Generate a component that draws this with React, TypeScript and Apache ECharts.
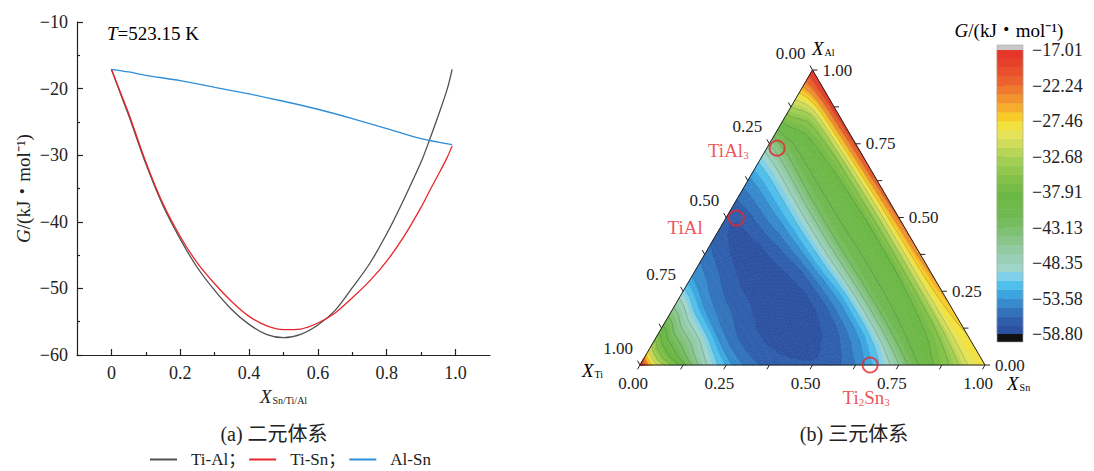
import React, { useEffect, useRef } from "react";
import * as echarts from "echarts";

// ---------------- (a) binary curves ----------------
const X_BINARY = [0, 0.025, 0.05, 0.1, 0.15, 0.2, 0.25, 0.3, 0.35, 0.4, 0.45, 0.5, 0.55, 0.6, 0.65, 0.7, 0.75, 0.8, 0.85, 0.9, 0.925, 0.95, 0.975, 0.99];
const G_TI_AL = [-17.1, -20.6, -24.0, -31.3, -37.6, -42.6, -46.9, -50.3, -53.2, -55.4, -56.9, -57.4, -56.9, -55.5, -53.3, -49.9, -46.3, -41.8, -36.6, -31.0, -27.6, -24.0, -20.2, -17.1];
const G_TI_SN = [-17.1, -20.4, -23.7, -31.0, -37.3, -42.2, -46.2, -49.3, -52.0, -54.2, -55.6, -56.2, -56.1, -55.2, -53.7, -51.4, -48.9, -45.9, -42.2, -37.8, -35.3, -32.9, -30.4, -28.6];
const X_AL_SN = [0, 0.05, 0.1, 0.2, 0.3, 0.4, 0.5, 0.6, 0.7, 0.8, 0.9, 0.99];
const G_AL_SN = [-17.1, -17.5, -18.0, -18.8, -19.8, -20.8, -21.9, -23.1, -24.5, -26.0, -27.5, -28.4];
const SERIES_NAMES = ["Ti-Al", "Ti-Sn", "Al-Sn"];
const X_MAJOR_TICKS = [0, 0.2, 0.4, 0.6, 0.8, 1.0];
const X_MINOR_TICKS = [0.1, 0.3, 0.5, 0.7, 0.9];

// ---------------- (b) ternary field ----------------
// rows: constant X_Ti ; columns: share of Al in (Al+Sn)
const TI_LEVELS = [0, 0.03, 0.1, 0.2, 0.3, 0.4, 0.5, 0.6, 0.7, 0.8, 0.9, 0.96, 1];
const AL_SHARE = [0, 0.1, 0.2, 0.3, 0.4, 0.5, 0.6, 0.7, 0.8, 0.9, 1];
const G_T000 = [-28.6, -27.5, -26.2, -24.6, -23.2, -22.0, -20.8, -19.7, -18.7, -17.6, -17.01];
const G_T003 = [-29.0, -28.8, -28.5, -28.0, -27.7, -27.4, -26.8, -26.0, -25.0, -24.0, -21.5];
const G_T010 = [-35.0, -36.6, -37.4, -37.8, -38.0, -38.0, -37.8, -37.6, -37.0, -35.8, -30.0];
const G_T020 = [-41.0, -41.5, -41.8, -41.8, -41.7, -41.6, -41.5, -41.5, -41.6, -41.8, -40.5];
const G_T030 = [-50.5, -52.0, -52.6, -52.6, -52.0, -51.2, -50.8, -50.6, -50.6, -50.6, -50.2];
const G_T040 = [-55.8, -56.5, -57.2, -57.5, -57.5, -57.2, -56.6, -56.0, -55.5, -55.3, -55.0];
const G_T050 = [-57.3, -58.0, -58.5, -58.7, -58.8, -58.8, -58.7, -58.5, -58.2, -57.8, -57.3];
const G_T060 = [-57.0, -57.3, -57.5, -57.5, -57.3, -57.0, -57.0, -56.8, -56.5, -56.3, -56.0];
const G_T070 = [-55.0, -55.2, -55.3, -55.2, -55.0, -54.8, -54.6, -54.4, -54.0, -53.6, -53.5];
const G_T080 = [-49.0, -48.5, -48.0, -47.5, -47.0, -47.0, -47.0, -47.0, -46.5, -46.0, -46.0];
const G_T090 = [-36.0, -37.0, -37.5, -38.0, -38.0, -38.0, -38.0, -38.0, -37.5, -37.0, -37.0];
const G_T096 = [-28.0, -28.5, -29.0, -29.0, -29.0, -29.0, -29.0, -29.0, -29.0, -28.5, -28.0];
const G_T100 = [-17.01, -17.01, -17.01, -17.01, -17.01, -17.01, -17.01, -17.01, -17.01, -17.01, -17.01];
const G_GRID = [G_T000, G_T003, G_T010, G_T020, G_T030, G_T040, G_T050, G_T060, G_T070, G_T080, G_T090, G_T096, G_T100];

const G_MIN = -58.8;
const G_MAX = -17.01;
const BAND_COUNT = 32;
const CB_TICKS = [-17.01, -22.24, -27.46, -32.68, -37.91, -43.13, -48.35, -53.58, -58.8];
const TERNARY_TICKS = [0, 0.125, 0.25, 0.375, 0.5, 0.625, 0.75, 0.875, 1];

const COMPOUND_TI = [0.235, 0.472, 0.333];
const COMPOUND_AL = [0.735, 0.498, 0.0];
const COMPOUND_SN = [0.03, 0.03, 0.667];
const COMPOUND_LABELS = ["{a|TiAl}{s|3}", "{a|TiAl}", "{a|Ti}{s|2}{a|Sn}{s|3}"];

const COLOR_STOPS: [number, string][] = [
  [-17.01, "#e5302a"], [-19.5, "#e8452a"], [-21.8, "#ed652c"], [-23.7, "#f1892e"],
  [-25.3, "#f6a82d"], [-26.5, "#f9c523"], [-27.8, "#f4df38"], [-29.5, "#e5e35a"],
  [-31.3, "#c6d95a"], [-33.5, "#9ecd52"], [-36.0, "#82c148"], [-38.5, "#6cb845"],
  [-41.0, "#6fb94f"], [-43.0, "#7abe66"], [-45.0, "#88c58a"], [-47.0, "#96cdac"],
  [-49.0, "#9fd4c8"], [-50.3, "#7fd0ea"], [-51.7, "#4cbfeb"], [-53.2, "#3a9fdc"],
  [-54.7, "#3480c6"], [-56.2, "#2f66b2"], [-57.6, "#2c55a4"], [-58.8, "#2b4d9c"],
];

const SERIF = '"Liberation Serif","Times New Roman","Noto Sans CJK SC",serif';
const SQ3 = Math.sqrt(3);
const CB_AXIS_MAX = -16.27;
const CB_AXIS_MIN = -59.98;
const REFINE = 4;

function hexRgb(h: string) {
  const n = parseInt(h.slice(1), 16);
  return [(n >> 16) & 255, (n >> 8) & 255, n & 255];
}
function colorAt(v: number) {
  if (v >= COLOR_STOPS[0][0]) return COLOR_STOPS[0][1];
  for (let i = 0; i < COLOR_STOPS.length - 1; i++) {
    const [v0, c0] = COLOR_STOPS[i];
    const [v1, c1] = COLOR_STOPS[i + 1];
    if (v <= v0 && v >= v1) {
      const t = (v0 - v) / (v0 - v1);
      const a = hexRgb(c0), b = hexRgb(c1);
      const r = a.map((x, k) => Math.round(x + (b[k] - x) * t));
      return `rgb(${r[0]},${r[1]},${r[2]})`;
    }
  }
  return COLOR_STOPS[COLOR_STOPS.length - 1][1];
}
const BAND_STEP = (G_MAX - G_MIN) / BAND_COUNT;
const BAND_COLORS = Array.from({ length: BAND_COUNT }, (_, k) => colorAt(G_MIN + (k + 0.5) * BAND_STEP));

// monotone cubic (PCHIP) resampling between the read grid values, for smooth drawing only
function pchip(xs: number[], ys: number[], xq: number[]) {
  const n = xs.length;
  const h: number[] = [], d: number[] = [];
  for (let i = 0; i < n - 1; i++) { h.push(xs[i + 1] - xs[i]); d.push((ys[i + 1] - ys[i]) / h[i]); }
  const m = new Array(n).fill(0);
  m[0] = d[0]; m[n - 1] = d[n - 2];
  for (let i = 1; i < n - 1; i++) {
    if (d[i - 1] * d[i] <= 0) m[i] = 0;
    else {
      const w1 = 2 * h[i] + h[i - 1], w2 = h[i] + 2 * h[i - 1];
      m[i] = (w1 + w2) / (w1 / d[i - 1] + w2 / d[i]);
    }
  }
  return xq.map((x) => {
    let i = 0;
    while (i < n - 2 && x > xs[i + 1]) i++;
    const t = (x - xs[i]) / h[i];
    const t2 = t * t, t3 = t2 * t;
    return (2 * t3 - 3 * t2 + 1) * ys[i] + (t3 - 2 * t2 + t) * h[i] * m[i] + (-2 * t3 + 3 * t2) * ys[i + 1] + (t3 - t2) * h[i] * m[i + 1];
  });
}
function refineLin(arr: number[], r: number) {
  const out: number[] = [];
  for (let i = 0; i < arr.length - 1; i++) for (let k = 0; k < r; k++) out.push(arr[i] + ((arr[i + 1] - arr[i]) * k) / r);
  out.push(arr[arr.length - 1]);
  return out;
}
const FINE_TI = refineLin(TI_LEVELS, REFINE);
const FINE_S = refineLin(AL_SHARE, REFINE);
const FINE_G: number[][] = (() => {
  const cols = AL_SHARE.map((_, j) => pchip(TI_LEVELS, G_GRID.map((row) => row[j]), FINE_TI));
  return FINE_TI.map((_, i) => pchip(AL_SHARE, cols.map((c) => c[i]), FINE_S));
})();

type P = { x: number; y: number; v: number };
function clip(poly: P[], level: number, keepAbove: boolean): P[] {
  const out: P[] = [];
  for (let i = 0; i < poly.length; i++) {
    const a = poly[i], b = poly[(i + 1) % poly.length];
    const ain = keepAbove ? a.v >= level : a.v <= level;
    const bin = keepAbove ? b.v >= level : b.v <= level;
    if (ain) out.push(a);
    if (ain !== bin) {
      const t = (level - a.v) / (b.v - a.v);
      out.push({ x: a.x + (b.x - a.x) * t, y: a.y + (b.y - a.y) * t, v: level });
    }
  }
  return out;
}
const ternXY = (_ti: number, al: number, sn: number) => [sn + al / 2, (al * SQ3) / 2];

function renderField(_params: any, api: any) {
  const pts: P[][] = FINE_TI.map((ti, i) =>
    FINE_S.map((s, j) => {
      const al = (1 - ti) * s, sn = (1 - ti) * (1 - s);
      const c = api.coord(ternXY(ti, al, sn));
      return { x: c[0], y: c[1], v: FINE_G[i][j] };
    })
  );
  const fills: any[] = [];
  const lines: any[] = [];
  for (let i = 0; i < pts.length - 1; i++) {
    for (let j = 0; j < pts[i].length - 1; j++) {
      const tris = [
        [pts[i][j], pts[i][j + 1], pts[i + 1][j]],
        [pts[i][j + 1], pts[i + 1][j + 1], pts[i + 1][j]],
      ];
      for (const tri of tris) {
        const vs = tri.map((p) => p.v);
        const lo = Math.min(...vs), hi = Math.max(...vs);
        const k0 = Math.max(0, Math.floor((lo - G_MIN) / BAND_STEP));
        const k1 = Math.min(BAND_COUNT - 1, Math.floor((hi - G_MIN) / BAND_STEP));
        for (let k = k0; k <= k1; k++) {
          const a = G_MIN + k * BAND_STEP, b = a + BAND_STEP;
          let poly = k === 0 ? tri : clip(tri, a, true);
          if (k !== BAND_COUNT - 1) poly = clip(poly, b, false);
          if (poly.length >= 3) {
            fills.push({
              type: "polygon",
              shape: { points: poly.map((p) => [p.x, p.y]) },
              style: { fill: BAND_COLORS[k], stroke: BAND_COLORS[k], lineWidth: 0.6 },
            });
          }
        }
        for (let k = 2; k < BAND_COUNT; k += 2) {
          const L = G_MIN + k * BAND_STEP;
          if (L <= lo || L >= hi) continue;
          const cross: number[][] = [];
          for (let e = 0; e < 3; e++) {
            const a = tri[e], b = tri[(e + 1) % 3];
            if ((a.v - L) * (b.v - L) < 0) {
              const t = (L - a.v) / (b.v - a.v);
              cross.push([a.x + (b.x - a.x) * t, a.y + (b.y - a.y) * t]);
            }
          }
          if (cross.length === 2) {
            lines.push({
              type: "line",
              shape: { x1: cross[0][0], y1: cross[0][1], x2: cross[1][0], y2: cross[1][1] },
              style: { stroke: "rgba(10,45,70,0.32)", lineWidth: 0.6 },
            });
          }
        }
      }
    }
  }
  return { type: "group", children: fills.concat(lines) };
}

function renderFrame(_params: any, api: any) {
  const at = (ti: number, al: number, sn: number) => api.coord(ternXY(ti, al, sn));
  const A = at(0, 1, 0), T = at(1, 0, 0), S = at(0, 0, 1);
  const ch: any[] = [
    { type: "polygon", shape: { points: [T, S, A] }, style: { fill: "none", stroke: "#222", lineWidth: 1 } },
  ];
  const L = 5;
  const font = { fontFamily: SERIF, fontSize: 17, fill: "#222" };
  TERNARY_TICKS.forEach((f, k) => {
    const pl = at(f, 1 - f, 0);
    const pb = at(1 - f, 0, f);
    const pr = at(0, f, 1 - f);
    ch.push({ type: "line", shape: { x1: pl[0], y1: pl[1], x2: pl[0] - 0.5 * L, y2: pl[1] - 0.866 * L }, style: { stroke: "#222", lineWidth: 1 } });
    ch.push({ type: "line", shape: { x1: pb[0], y1: pb[1], x2: pb[0] - 0.5 * L, y2: pb[1] + 0.866 * L }, style: { stroke: "#222", lineWidth: 1 } });
    ch.push({ type: "line", shape: { x1: pr[0], y1: pr[1], x2: pr[0] + L, y2: pr[1] }, style: { stroke: "#222", lineWidth: 1 } });
    if (k % 2 === 0) {
      const txt = f.toFixed(2);
      ch.push({ type: "text", x: pl[0] - 22, y: pl[1] - 17, style: { ...font, text: txt, align: "center", verticalAlign: "middle" } });
      ch.push({ type: "text", x: pb[0] - 7, y: pb[1] + 18, style: { ...font, text: txt, align: "center", verticalAlign: "middle" } });
      ch.push({ type: "text", x: pr[0] + 10, y: pr[1], style: { ...font, text: txt, align: "left", verticalAlign: "middle" } });
    }
  });
  return { type: "group", children: ch };
}

function renderColorbar(_params: any, api: any) {
  const ch: any[] = [];
  for (let k = 0; k < BAND_COUNT; k++) {
    const p0 = api.coord([0, G_MIN + k * BAND_STEP]);
    const p1 = api.coord([1, G_MIN + (k + 1) * BAND_STEP]);
    ch.push({ type: "rect", shape: { x: p0[0], y: p1[1], width: p1[0] - p0[0], height: p0[1] - p1[1] }, style: { fill: BAND_COLORS[k], stroke: BAND_COLORS[k], lineWidth: 0.5 } });
  }
  const t0 = api.coord([0, CB_AXIS_MAX]), t1 = api.coord([1, G_MAX]);
  ch.push({ type: "rect", shape: { x: t0[0], y: t0[1], width: t1[0] - t0[0], height: t1[1] - t0[1] }, style: { fill: "#c8c8c8" } });
  const b0 = api.coord([0, G_MIN]), b1 = api.coord([1, CB_AXIS_MIN]);
  ch.push({ type: "rect", shape: { x: b0[0], y: b0[1], width: b1[0] - b0[0], height: b1[1] - b0[1] }, style: { fill: "#111" } });
  ch.push({ type: "rect", shape: { x: t0[0], y: t0[1], width: t1[0] - t0[0], height: b1[1] - t0[1] }, style: { fill: "none", stroke: "#aaa", lineWidth: 0.6 } });
  return { type: "group", children: ch };
}

const fmtMinus = (v: number, d: number) => (v < 0 ? "\u2212" : "") + Math.abs(v).toFixed(d);

export default function App() {
  const ref = useRef<HTMLDivElement>(null);
  useEffect(() => {
    if (!ref.current) return;
    const chart = echarts.init(ref.current, null, { renderer: "svg" });
    const axisColor = "#222";
    const richSub = {
      i: { fontFamily: SERIF, fontStyle: "italic", fontSize: 19, color: axisColor },
      n: { fontFamily: SERIF, fontSize: 19, color: axisColor },
      s: { fontFamily: SERIF, fontSize: 10, color: axisColor, padding: [9, 0, 0, 1] },
    };
    const lineColors = ["#505050", "#e8262b", "#2f8ed6"];
    const curves = [
      X_BINARY.map((x, i) => [x, G_TI_AL[i]]),
      X_BINARY.map((x, i) => [x, G_TI_SN[i]]),
      X_AL_SN.map((x, i) => [x, G_AL_SN[i]]),
    ];
    const option: any = {
      animation: false,
      backgroundColor: "#fff",
      grid: [
        { left: 77, top: 22, width: 413, height: 333, outerBoundsMode: "none" },
        { left: 640, top: 70, width: 345, height: 295, outerBoundsMode: "none" },
        { left: 997, top: 45, width: 26, height: 297, outerBoundsMode: "none" },
      ],
      xAxis: [
        {
          type: "value", gridIndex: 0, min: -0.1, max: 1.1, position: "bottom",
          axisLine: { onZero: false, lineStyle: { color: axisColor, width: 1.2 } },
          axisTick: { inside: true, length: 6, customValues: X_MAJOR_TICKS, lineStyle: { color: axisColor, width: 1.2 } },
          axisLabel: { customValues: X_MAJOR_TICKS, margin: 9, fontFamily: SERIF, fontSize: 18, color: axisColor, formatter: (v: number) => (v === 0 ? "0" : v.toFixed(1)) },
          splitLine: { show: false },
          name: "{i|X}{s|Sn/Ti/Al}", nameLocation: "middle", nameGap: 31,
          nameTextStyle: { rich: richSub },
        },
        {
          type: "value", gridIndex: 0, min: -0.1, max: 1.1, position: "bottom",
          axisLine: { show: false, onZero: false },
          axisTick: { inside: true, length: 3, customValues: X_MINOR_TICKS, lineStyle: { color: axisColor, width: 1.2 } },
          axisLabel: { show: false }, splitLine: { show: false },
        },
        { type: "value", gridIndex: 1, min: 0, max: 1, show: false },
        { type: "value", gridIndex: 2, min: 0, max: 1, show: false },
      ],
      yAxis: [
        {
          type: "value", gridIndex: 0, min: -60, max: -10, interval: 10,
          axisLine: { show: true, onZero: false, lineStyle: { color: axisColor, width: 1.2 } },
          axisTick: { show: true, inside: true, length: 6, lineStyle: { color: axisColor, width: 1.2 } },
          minorTick: { show: true, splitNumber: 2, length: 3, lineStyle: { color: axisColor, width: 1.2 } },
          axisLabel: { margin: 9, fontFamily: SERIF, fontSize: 18, color: axisColor, formatter: (v: number) => fmtMinus(v, 0) },
          splitLine: { show: false },
          name: "{i|G}{n|/(kJ・mol⁻¹)}", nameLocation: "middle", nameGap: 44, nameRotate: 90,
          nameTextStyle: { rich: richSub },
        },
        { type: "value", gridIndex: 1, min: 0, max: SQ3 / 2, show: false },
        {
          type: "value", gridIndex: 2, min: CB_AXIS_MIN, max: CB_AXIS_MAX, position: "right",
          axisLine: { show: false },
          axisTick: { show: true, length: 6, customValues: CB_TICKS, lineStyle: { color: axisColor } },
          axisLabel: { customValues: CB_TICKS, margin: 9, fontFamily: SERIF, fontSize: 18, color: axisColor, formatter: (v: number) => fmtMinus(v, 2) },
          splitLine: { show: false },
        },
      ],
      legend: {
        left: 145, top: 446, itemWidth: 27, itemHeight: 2, itemGap: 4, icon: "rect",
        data: SERIES_NAMES,
        formatter: (n: string) => (n === "Al-Sn" ? n : n + "；"),
        textStyle: { fontFamily: SERIF, fontSize: 17, color: axisColor, padding: [0, 0, 0, 9] },
      },
      series: [
        ...curves.map((d, i) => ({
          type: "line", name: SERIES_NAMES[i], xAxisIndex: 0, yAxisIndex: 0, data: d,
          showSymbol: false, symbol: "none", smooth: 0.3,
          lineStyle: { color: lineColors[i], width: 1.3 }, itemStyle: { color: lineColors[i] },
        })),
        {
          type: "custom", name: "field", xAxisIndex: 2, yAxisIndex: 1, data: [[0.5, 0.3]],
          renderItem: renderField, silent: true, z: 1,
        },
        {
          type: "custom", name: "frame", xAxisIndex: 2, yAxisIndex: 1, data: [[0.5, 0.3]],
          renderItem: renderFrame, silent: true, z: 3,
        },
        {
          type: "scatter", name: "compounds", xAxisIndex: 2, yAxisIndex: 1, z: 4, silent: true,
          symbol: "circle", symbolSize: 15,
          itemStyle: { color: "rgba(0,0,0,0)", borderColor: "#e8262b", borderWidth: 2 },
          data: COMPOUND_LABELS.map((lab, i) => ({
            value: ternXY(COMPOUND_TI[i], COMPOUND_AL[i], COMPOUND_SN[i]),
            label: {
              show: true, formatter: lab,
              position: i === 2 ? "bottom" : "left",
              distance: i === 0 ? 20 : i === 1 ? 25 : 11,
              offset: i === 0 ? [0, 2] : i === 1 ? [0, 9] : [-4, 3],
              rich: {
                a: { fontFamily: SERIF, fontSize: 19, color: "#e8262b" },
                s: { fontFamily: SERIF, fontSize: 11, color: "#e8262b", padding: [9, 0, 0, 0] },
              },
            },
          })),
        },
        {
          type: "custom", name: "colorbar", xAxisIndex: 3, yAxisIndex: 2, data: [[0.5, -30]],
          renderItem: renderColorbar, silent: true, z: 2,
        },
      ],
      graphic: [
        { type: "text", x: 107, y: 33, style: { text: "{i|T}{n|=523.15 K}", rich: richSub, verticalAlign: "middle" } },
        { type: "text", x: 274, y: 434, style: { text: "(a) 二元体系", fontFamily: SERIF, fontSize: 20, fill: axisColor, align: "center", verticalAlign: "middle" } },
        { type: "text", x: 854, y: 434, style: { text: "(b) 三元体系", fontFamily: SERIF, fontSize: 20, fill: axisColor, align: "center", verticalAlign: "middle" } },
        { type: "text", x: 1009, y: 30, style: { text: "{i|G}{n|/(kJ・mol⁻¹)}", rich: richSub, align: "center", verticalAlign: "middle" } },
        { type: "text", x: 812, y: 48, style: { text: "{i|X}{s|Al}", rich: richSub, verticalAlign: "middle" } },
        { type: "text", x: 582, y: 370, style: { text: "{i|X}{s|Ti}", rich: richSub, verticalAlign: "middle" } },
        { type: "text", x: 1007, y: 383, style: { text: "{i|X}{s|Sn}", rich: richSub, verticalAlign: "middle" } },
      ],
    };
    chart.setOption(option);
    return () => chart.dispose();
  }, []);
  return (
    <div
      ref={ref}
      style={{ position: "fixed", left: 0, top: 0, width: 1094, height: 471, background: "#fff" }}
    />
  );
}
